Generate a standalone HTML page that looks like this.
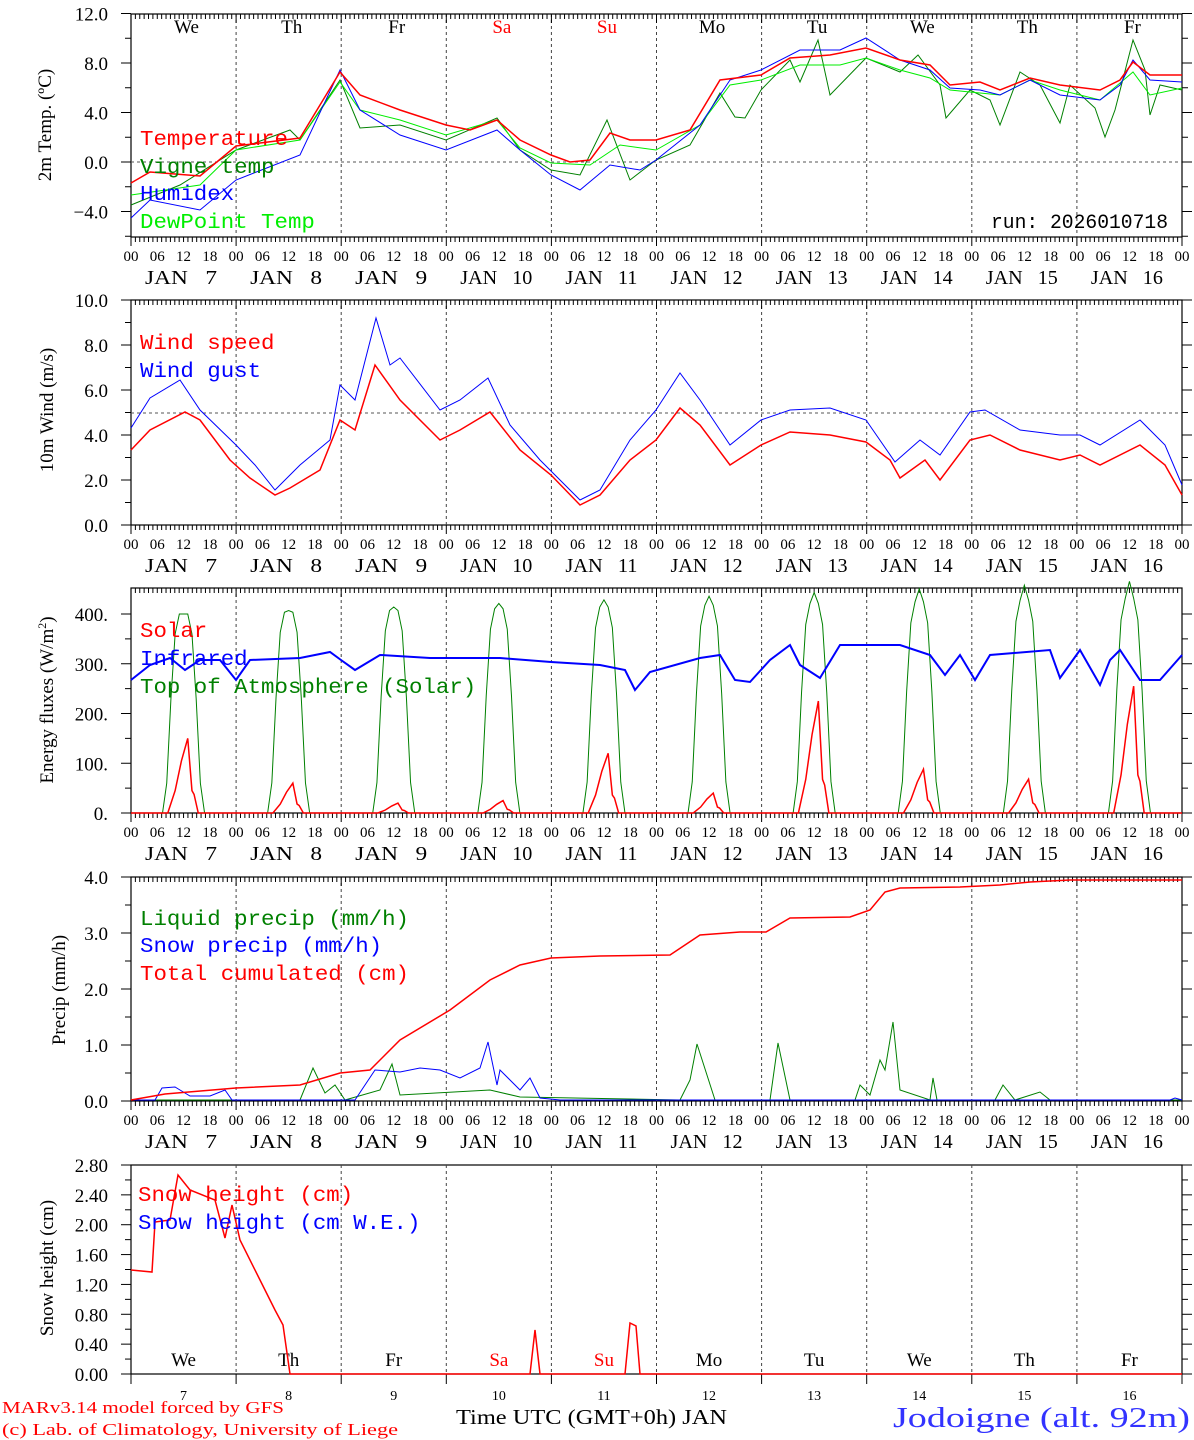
<!DOCTYPE html>
<html><head><meta charset="utf-8"><style>
html,body{margin:0;padding:0;background:#fff;}
svg{display:block;}
text{font-family:"Liberation Serif",serif;}
.m{font-family:"Liberation Mono",monospace;}
</style></head><body>
<svg id="s" width="1194" height="1440" xmlns="http://www.w3.org/2000/svg"></svg>
<script>
const S=document.getElementById('s');let h='';
const X0=131,X1=1182,DW=(X1-X0)/10;
function line(x1,y1,x2,y2,st){h+=`<line x1="${x1}" y1="${y1}" x2="${x2}" y2="${y2}" style="${st}"/>`;}
function txt(x,y,t,o){o=o||{};h+=`<text x="${x}" y="${y}" font-size="${o.fs||18}" fill="${o.c||'#000'}" text-anchor="${o.a||'start'}" ${o.cls?'class="'+o.cls+'"':''} ${o.tl?'textLength="'+o.tl+'" lengthAdjust="spacingAndGlyphs"':''} ${o.tr?'transform="'+o.tr+'"':''}>${t}</text>`;}
function poly(pts,c,w){let p=[];for(let i=0;i<pts.length;i+=2)p.push(pts[i]+','+pts[i+1]);h+=`<polyline points="${p.join(' ')}" fill="none" stroke="${c}" stroke-width="${w||1}"/>`;}
function panel(top,bot,ticks,minors,hourly){
 h+=`<rect x="${X0}" y="${top}" width="${X1-X0}" height="${bot-top}" fill="none" stroke="#000" stroke-width="1.2"/>`;
 for(let d=1;d<10;d++){const x=X0+d*DW;line(x,top,x,bot,'stroke:#444;stroke-dasharray:3,3;stroke-width:1');}
 for(const [y,l] of ticks){line(X0-10,y,X0,y,'stroke:#000');line(X1,y,X1+10,y,'stroke:#000');txt(108,y+7,l,{a:'end',fs:19});}
 for(const y of minors){line(X0-6,y,X0,y,'stroke:#000');line(X1,y,X1+6,y,'stroke:#000');}
 if(hourly){for(let i=0;i<=240;i++){const x=X0+i*DW/24;const L=(i%24==0)?9:5;line(x,bot,x,bot+L,'stroke:#000');line(x,top,x,top+L,'stroke:#000');}
  for(let d=0;d<10;d++){['00','06','12','18'].forEach((l,k)=>txt(X0+d*DW+k*DW/4,bot+24,l,{a:'middle',fs:15}));
   txt(X0+d*DW+50,bot+47,'JAN&#160;&#160;&#160;'+(7+d),{a:'middle',fs:20,tl:72});}
  txt(X1,bot+24,'00',{a:'middle',fs:15});}
}
const L=(x,y,t,c)=>txt(x,y,t,{c:c,cls:'m',fs:21,tl:t.length*13.45});
// Panel 1
let t1=[];for(let v=12;v>=-4;v-=4)t1.push([162-v*12.375,v.toFixed(1).replace('-','−')]);
let m1=[];for(let v=10;v>=-6;v-=4)m1.push(162-v*12.375);
panel(14,237,t1,m1,true);
line(X0,162,X1,162,'stroke:#555;stroke-dasharray:3,3');
const days=['We','Th','Fr','Sa','Su','Mo','Tu','We','Th','Fr'];
days.forEach((d,i)=>txt(X0+i*DW+DW/2+3,33,d,{a:'middle',fs:19,c:(i==3||i==4)?'#f00':'#000'}));
poly([131,205,180,185,236,150,290,130,300,140,340,80,360,128,400,125,446,140,497,118,520,150,551,170,580,175,607,120,630,180,656,160,690,145,720,93,735,117,745,118,761,90,790,60,800,82,818,40,830,95,866,58,900,72,918,55,940,85,946,118,970,90,990,100,1000,125,1020,72,1040,85,1060,123,1070,85,1095,108,1105,137,1115,110,1133,40,1145,70,1150,115,1160,85,1182,90],'#008000');
poly([131,195,200,185,236,150,300,140,340,82,360,110,400,120,446,135,497,120,520,148,551,163,590,165,620,145,656,150,700,125,730,85,761,80,800,65,840,65,866,58,900,70,930,78,950,90,1000,95,1030,80,1060,90,1100,100,1133,72,1150,95,1182,88],'#00ee00');
poly([131,218,150,200,200,210,236,180,300,155,340,70,360,110,400,135,446,150,497,130,520,150,551,175,580,190,610,165,640,170,656,160,700,125,730,80,761,70,800,50,840,50,866,38,900,60,930,70,950,88,980,90,1000,95,1030,80,1060,95,1100,100,1120,85,1133,60,1150,80,1182,82],'#0000ff');
poly([131,183,150,172,200,176,236,146,300,138,340,72,360,95,400,110,446,125,470,130,497,120,520,140,551,155,570,162,590,160,610,133,630,140,656,140,690,130,720,80,761,75,790,58,830,55,866,48,900,60,930,65,950,85,980,82,1000,90,1030,78,1060,85,1100,90,1120,80,1133,62,1150,75,1182,75],'#ff0000',1.5);
L(140,145,'Temperature','#f00');L(140,173,'Vigne temp','#008000');L(140,200,'Humidex','#00f');L(140,228,'DewPoint Temp','#0e0');
txt(1168,228,'run: 2026010718',{a:'end',cls:'m',fs:20,tl:177});
txt(0,0,'2m Temp. (ºC)',{a:'middle',fs:19,tr:'translate(51,125) rotate(-90)'});
// Panel 2
let t2=[],m2=[];for(let v=10;v>=0;v-=2){t2.push([525-v*22.5,v.toFixed(1)]);if(v>0)m2.push(525-(v-1)*22.5);}
panel(300,525,t2,m2,true);
line(X0,413,X1,413,'stroke:#555;stroke-dasharray:3,3');
poly([131,428,150,398,180,380,200,410,236,445,255,465,275,490,300,465,330,440,340,385,355,400,376,318,390,365,400,358,440,410,460,400,488,378,510,425,540,460,580,500,600,490,630,440,656,410,680,373,700,400,730,445,761,420,790,410,830,408,866,420,895,462,920,440,940,455,970,412,985,410,1020,430,1060,435,1080,435,1100,445,1140,420,1165,445,1182,485],'#0000ff');
poly([131,450,150,430,185,412,200,420,230,460,250,478,275,495,290,488,320,470,340,420,355,430,375,365,400,400,440,440,460,430,490,412,520,450,551,475,580,505,600,495,630,460,656,440,680,408,700,425,730,465,761,445,790,432,830,435,866,442,890,460,900,478,925,460,940,480,970,440,990,435,1020,450,1060,460,1080,455,1100,465,1140,445,1165,465,1182,495],'#ff0000',1.5);
L(140,349,'Wind speed','#f00');L(140,377,'Wind gust','#00f');
txt(0,0,'10m Wind (m/s)',{a:'middle',fs:19,tr:'translate(53,410) rotate(-90)'});
// Panel 3
const Y3=v=>813-v*0.4975;
let t3=[[Y3(400),'400.'],[Y3(300),'300.'],[Y3(200),'200.'],[Y3(100),'100.'],[Y3(0),'0.']];
panel(588,813,t3,[Y3(350),Y3(250),Y3(150),Y3(50)],true);
let g=[],r=[];const sol=[150,60,20,25,120,40,225,88,68,255];
for(let d=0;d<10;d++){const b=X0+d*DW,pk=400+3.5*d;
 [[0,0],[0.3,0],[0.34,60],[0.38,230],[0.42,360],[0.46,400],[0.5,pk/400*400],[0.54,400],[0.58,360],[0.62,230],[0.66,60],[0.7,0]].forEach(([f,v])=>{g.push(b+f*DW,Y3(v*pk/400));});
 const s=sol[d];[[0,0],[0.35,0],[0.42,s*0.3],[0.48,s*0.7],[0.54,s],[0.58,s*0.3],[0.6,s*0.25],[0.64,0]].forEach(([f,v])=>r.push(b+f*DW,Y3(v)));}
g.push(X1,813);r.push(X1,813);
poly(g,'#008000');
poly([131,680,150,665,170,658,185,670,200,660,220,660,236,680,250,660,300,658,330,652,341,660,355,670,380,655,430,658,500,658,551,662,600,665,625,670,635,690,650,672,700,658,720,655,735,680,750,682,770,660,790,645,800,665,820,678,840,645,900,645,930,655,945,675,960,655,975,680,990,655,1050,650,1060,678,1080,650,1100,685,1110,660,1120,650,1140,680,1160,680,1182,655],'#0000ff',2);
poly(r,'#ff0000',1.5);
L(140,637,'Solar','#f00');L(140,665,'Infrared','#00f');L(140,693,'Top of Atmosphere (Solar)','#008000');
h+=`<text font-size="19" text-anchor="middle" transform="translate(53,700) rotate(-90)">Energy fluxes (W/m<tspan font-size="12" dy="-7">2</tspan><tspan dy="7">)</tspan></text>`;
// Panel 4
let t4=[],m4=[];for(let v=4;v>=0;v--){t4.push([1101-v*56,v.toFixed(1)]);if(v>0)m4.push(1101-(v-0.5)*56);}
panel(877,1101,t4,m4,true);
poly([131,1100,300,1100,313,1068,325,1093,335,1085,345,1100,380,1090,392,1064,400,1095,490,1090,520,1097,680,1100,690,1080,697,1044,715,1100,770,1100,778,1043,790,1100,855,1100,860,1085,870,1095,880,1060,885,1070,893,1022,900,1090,930,1100,933,1078,937,1100,995,1100,1003,1085,1015,1100,1040,1092,1050,1100,1182,1100],'#008000');
poly([131,1100,155,1100,162,1088,175,1087,180,1090,190,1096,210,1096,225,1090,232,1100,355,1100,375,1070,400,1072,420,1068,440,1070,460,1078,480,1068,488,1042,497,1085,500,1070,520,1090,530,1078,540,1098,560,1100,1170,1100,1175,1098,1182,1100],'#0000ff');
poly([131,1100,165,1094,236,1088,300,1085,340,1073,370,1070,385,1055,400,1040,450,1010,490,980,520,965,551,958,600,956,670,955,700,935,740,932,766,932,790,918,850,917,870,910,885,892,900,888,960,887,1000,885,1030,882,1070,880,1182,880],'#ff0000',1.5);
L(140,925,'Liquid precip (mm/h)','#008000');L(140,952,'Snow precip (mm/h)','#00f');L(140,980,'Total cumulated (cm)','#f00');
txt(0,0,'Precip (mm/h)',{a:'middle',fs:19,tr:'translate(65,990) rotate(-90)'});
// Panel 5
let t5=[],m5=[];const st5=(1374-1165)/14;for(let k=0;k<=7;k++){t5.push([1374-k*2*st5,(k*0.4).toFixed(2)]);m5.push(1374-(2*k+1)*st5);}
m5.pop();
panel(1165,1374,t5,m5,false);
for(let d=0;d<=10;d++){const x=X0+d*DW;line(x,1374,x,1384,'stroke:#000');}
days.forEach((d,i)=>{txt(X0+i*DW+DW/2,1366,d,{a:'middle',fs:19,c:(i==3||i==4)?'#f00':'#000'});txt(X0+i*DW+DW/2,1400,7+i,{a:'middle',fs:14});});
poly([131,1270,152,1272,155,1222,170,1220,178,1175,190,1190,215,1200,225,1238,232,1205,240,1240,260,1280,275,1310,283,1325,290,1374,530,1374,535,1330,540,1374,625,1374,630,1323,636,1326,640,1374,1182,1374],'#ff0000',1.5);
L(138,1201,'Snow height (cm)','#f00');L(138,1229,'Snow height (cm W.E.)','#00f');
txt(0,0,'Snow height (cm)',{a:'middle',fs:19,tr:'translate(53,1268) rotate(-90)'});
// footer
txt(2,1413,'MARv3.14 model forced by GFS',{c:'#f00',fs:17,tl:282});
txt(2,1435,'(c) Lab. of Climatology, University of Liege',{c:'#f00',fs:17,tl:396});
txt(456,1424,'Time UTC (GMT+0h) JAN',{fs:21,tl:271});
txt(893,1427,'Jodoigne (alt. 92m)',{c:'#33f',fs:28,tl:297});
S.innerHTML=h;
</script>
</body></html>
